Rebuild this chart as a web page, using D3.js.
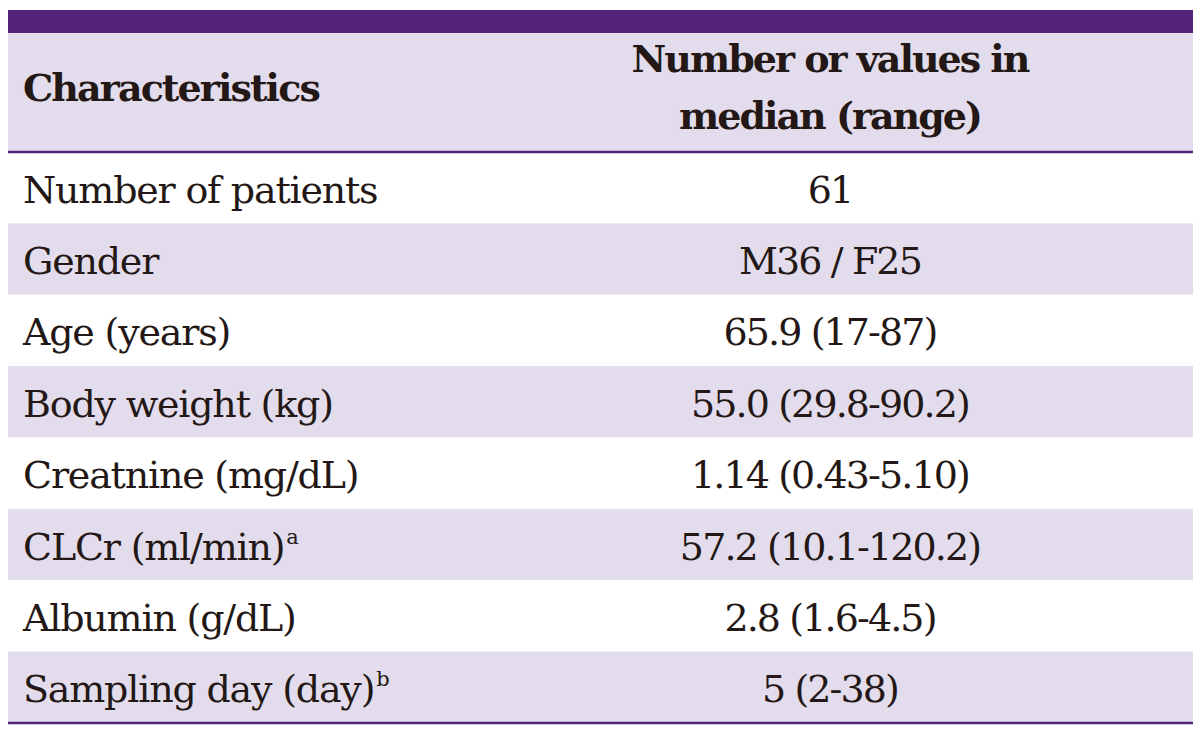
<!DOCTYPE html>
<html>
<head>
<meta charset="utf-8">
<script src="https://cdn.jsdelivr.net/npm/d3@7"></script>
<style>
  html, body { margin: 0; padding: 0; background: #fff; }
  svg { display: block; }
  text { font-family: "DejaVu Serif", "Liberation Serif", serif; fill: #231815; }
</style>
</head>
<body>
<svg id="chart" width="1200" height="730"></svg>
<script>
// ---- data ----
const headerCol1 = "Characteristics";
const headerCol2 = ["Number or values in", "median (range)"];
const characteristics = [
  "Number of patients", "Gender", "Age (years)", "Body weight (kg)",
  "Creatnine (mg/dL)", "CLCr (ml/min)", "Albumin (g/dL)", "Sampling day (day)"
];
const footnoteMarks = ["", "", "", "", "", "a", "", "b"];
const values = [
  "61", "M36 / F25", "65.9 (17-87)", "55.0 (29.8-90.2)",
  "1.14 (0.43-5.10)", "57.2 (10.1-120.2)", "2.8 (1.6-4.5)", "5 (2-38)"
];

// ---- layout ----
const svg = d3.select("#chart");
const left = 8, right = 1193;
const barTop = 10, barBottom = 33, headBottom = 152, tableBottom = 723;
const purple = "#55237a", lavender = "#e3dcec";
const col1X = 23, col2X = 830;

const y = d3.scaleBand().domain(d3.range(characteristics.length))
  .range([headBottom, tableBottom]).padding(0);

// header
svg.append("rect").attr("x", left).attr("y", barTop).attr("width", right - left)
  .attr("height", barBottom - barTop).attr("fill", purple);
svg.append("rect").attr("x", left).attr("y", barBottom).attr("width", right - left)
  .attr("height", headBottom - barBottom).attr("fill", lavender);

svg.append("text").attr("x", col1X).attr("y", 101)
  .attr("font-size", 38).attr("font-weight", "bold").attr("letter-spacing", -1.9)
  .text(headerCol1);
svg.selectAll("text.h2").data(headerCol2).join("text").attr("class", "h2")
  .attr("x", col2X).attr("y", (d, i) => 72 + i * 57)
  .attr("text-anchor", "middle").attr("font-size", 38).attr("font-weight", "bold")
  .attr("letter-spacing", -2)
  .text(d => d);

// rows
const rows = svg.selectAll("g.row").data(characteristics).join("g").attr("class", "row")
  .attr("transform", (d, i) => `translate(0,${y(i)})`);
rows.append("rect").attr("x", left).attr("width", right - left)
  .attr("height", y.bandwidth())
  .attr("fill", (d, i) => i % 2 === 1 ? lavender : "#ffffff");
const lab = rows.append("text").attr("x", col1X).attr("y", y.bandwidth() / 2 + 15)
  .attr("font-size", 38).attr("letter-spacing", -1.2);
lab.append("tspan").text(d => d);
lab.append("tspan").attr("font-size", 21).attr("dy", -16).attr("dx", 2)
  .text((d, i) => footnoteMarks[i]);
rows.append("text").attr("x", col2X).attr("y", y.bandwidth() / 2 + 15)
  .attr("text-anchor", "middle").attr("font-size", 38).attr("letter-spacing", -1.9)
  .text((d, i) => values[i]);

// rules
svg.append("line").attr("x1", left).attr("x2", right).attr("y1", headBottom).attr("y2", headBottom)
  .attr("stroke", purple).attr("stroke-width", 2.5);
svg.append("line").attr("x1", left).attr("x2", right).attr("y1", tableBottom).attr("y2", tableBottom)
  .attr("stroke", purple).attr("stroke-width", 2.5);
</script>
</body>
</html>
